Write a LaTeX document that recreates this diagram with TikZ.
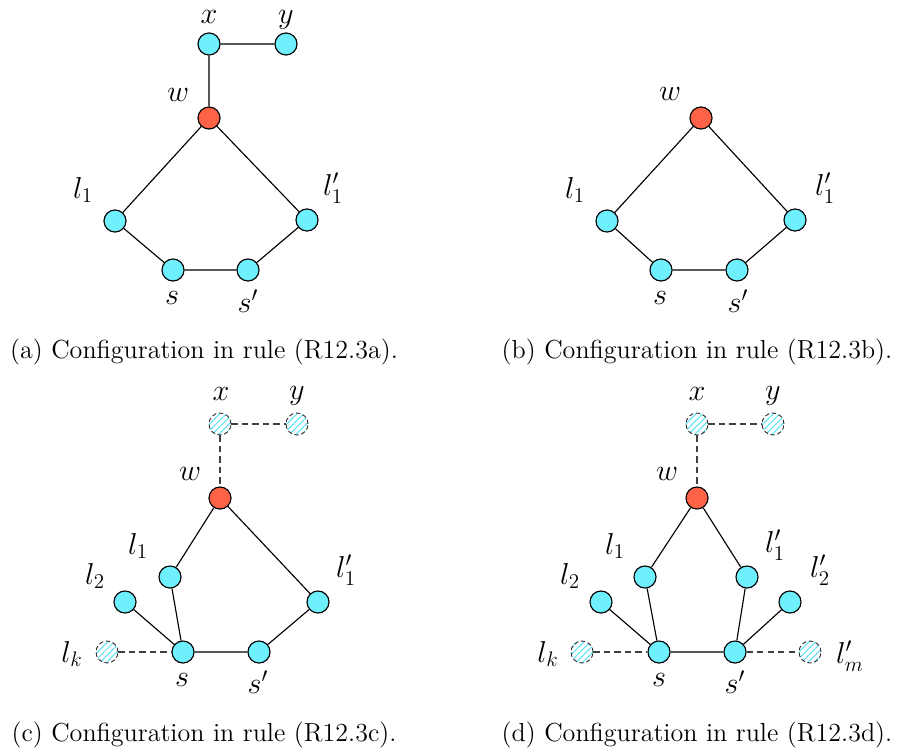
\documentclass[tikz,border=0pt]{standalone}
\usetikzlibrary{patterns.meta}
\definecolor{nodecyan}{RGB}{110,240,255}
\definecolor{hatchcyan}{RGB}{90,225,245}
\definecolor{nodered}{RGB}{255,99,71}
\tikzset{
  vtx/.style={circle,draw=black,fill=nodecyan,minimum size=12.6pt,inner sep=0pt,line width=0.65pt},
  rvtx/.style={vtx,fill=nodered},
  hvtx/.style={circle,draw=black!85,dash pattern=on 2.5pt off 1.5pt,pattern={Lines[angle=45,distance=2.6pt,line width=0.6pt]},pattern color=hatchcyan,minimum size=12.6pt,inner sep=0pt,line width=0.5pt},
  edge/.style={line width=0.65pt},
  dedge/.style={line width=0.6pt,dash pattern=on 3.5pt off 2.5pt,draw=black!75},
  lbl/.style={font=\fontsize{16.5}{19}\selectfont,inner sep=0pt},
  captext/.style={font=\fontsize{14.9}{17}\selectfont,inner sep=0pt}
}
\begin{document}
\begin{tikzpicture}[x=0.5714pt,y=-0.5714pt]
\useasboundingbox (0,0) rectangle (906,756);
% (a)
\node[vtx] (ax) at (209,44) {};
\node[vtx] (ay) at (286,44) {};
\node[rvtx] (aw) at (209,118) {};
\node[vtx] (al1) at (115,221) {};
\node[vtx] (al1p) at (307,220) {};
\node[vtx] (as) at (173,270) {};
\node[vtx] (asp) at (248,270) {};
\draw[edge] (ax)--(ay) (ax)--(aw) (aw)--(al1) (aw)--(al1p) (al1)--(as) (as)--(asp) (asp)--(al1p);
\node[lbl] (axl) at (209,17) {$x$};
\node[lbl] (ayl) at (286,20) {$y$};
\node[lbl] (awl) at (178,95) {$w$};
\node[lbl] (al1l) at (83,190) {$l_1$};
\node[lbl] (al1pl) at (333,188) {$l_1'$};
\node[lbl] (asl) at (172,298) {$s$};
\node[lbl] (aspl) at (248,301) {$s'$};
\node[captext] (acap) at (204,352) {(a) Configuration in rule (R12.3a).};
% (b)
\node[rvtx] (bw) at (701,118) {};
\node[vtx] (bl1) at (607,221) {};
\node[vtx] (bl1p) at (795,220) {};
\node[vtx] (bs) at (661,270) {};
\node[vtx] (bsp) at (737,270) {};
\draw[edge] (bw)--(bl1) (bw)--(bl1p) (bl1)--(bs) (bs)--(bsp) (bsp)--(bl1p);
\node[lbl] (bwl) at (670,94) {$w$};
\node[lbl] (bl1l) at (575,190) {$l_1$};
\node[lbl] (bl1pl) at (825,188) {$l_1'$};
\node[lbl] (bsl) at (660,298) {$s$};
\node[lbl] (bspl) at (738,301) {$s'$};
\node[captext] (bcap) at (697,352) {(b) Configuration in rule (R12.3b).};
% (c)
\node[hvtx] (cx) at (220,424) {};
\node[hvtx] (cy) at (297,424) {};
\node[rvtx] (cw) at (220,498) {};
\node[vtx] (cl1) at (170,577) {};
\node[vtx] (cl2) at (125,602) {};
\node[hvtx] (clk) at (107,652) {};
\node[vtx] (cs) at (183,652) {};
\node[vtx] (csp) at (259,652) {};
\node[vtx] (cl1p) at (318,602) {};
\draw[dedge] (cx)--(cy) (cx)--(cw) (clk)--(cs);
\draw[edge] (cw)--(cl1) (cw)--(cl1p) (cl1)--(cs) (cl2)--(cs) (cs)--(csp) (csp)--(cl1p);
\node[lbl] (cxl) at (221,394) {$x$};
\node[lbl] (cyl) at (297,396) {$y$};
\node[lbl] (cwl) at (190,474) {$w$};
\node[lbl] (cl1l) at (138,546) {$l_1$};
\node[lbl] (cl2l) at (95,576) {$l_2$};
\node[lbl] (clkl) at (72,654) {$l_k$};
\node[lbl] (csl) at (182,680) {$s$};
\node[lbl] (cspl) at (258,682) {$s'$};
\node[lbl] (cl1pl) at (346,570) {$l_1'$};
\node[captext] (ccap) at (204,735) {(c) Configuration in rule (R12.3c).};
% (d)
\node[hvtx] (dx) at (697,424) {};
\node[hvtx] (dy) at (773,424) {};
\node[rvtx] (dw) at (697,498) {};
\node[vtx] (dl1) at (645,577) {};
\node[vtx] (dl2) at (601,602) {};
\node[hvtx] (dlk) at (582,652) {};
\node[vtx] (ds) at (659,652) {};
\node[vtx] (dsp) at (735,652) {};
\node[vtx] (dl1p) at (747,577) {};
\node[vtx] (dl2p) at (790,602) {};
\node[hvtx] (dlm) at (810,652) {};
\draw[dedge] (dx)--(dy) (dx)--(dw) (dlk)--(ds) (dsp)--(dlm);
\draw[edge] (dw)--(dl1) (dw)--(dl1p) (dl1)--(ds) (dl2)--(ds) (ds)--(dsp) (dsp)--(dl1p) (dsp)--(dl2p);
\node[lbl] (dxl) at (697,394) {$x$};
\node[lbl] (dyl) at (773,396) {$y$};
\node[lbl] (dwl) at (667,474) {$w$};
\node[lbl] (dl1l) at (615,546) {$l_1$};
\node[lbl] (dl2l) at (570,576) {$l_2$};
\node[lbl] (dlkl) at (548,654) {$l_k$};
\node[lbl] (dsl) at (659,680) {$s$};
\node[lbl] (dspl) at (735,682) {$s'$};
\node[lbl] (dl1pl) at (775,545) {$l_1'$};
\node[lbl] (dl2pl) at (820,570) {$l_2'$};
\node[lbl] (dlml) at (850,656) {$l_m'$};
\node[captext] (dcap) at (697,735) {(d) Configuration in rule (R12.3d).};
\end{tikzpicture}
\end{document}
